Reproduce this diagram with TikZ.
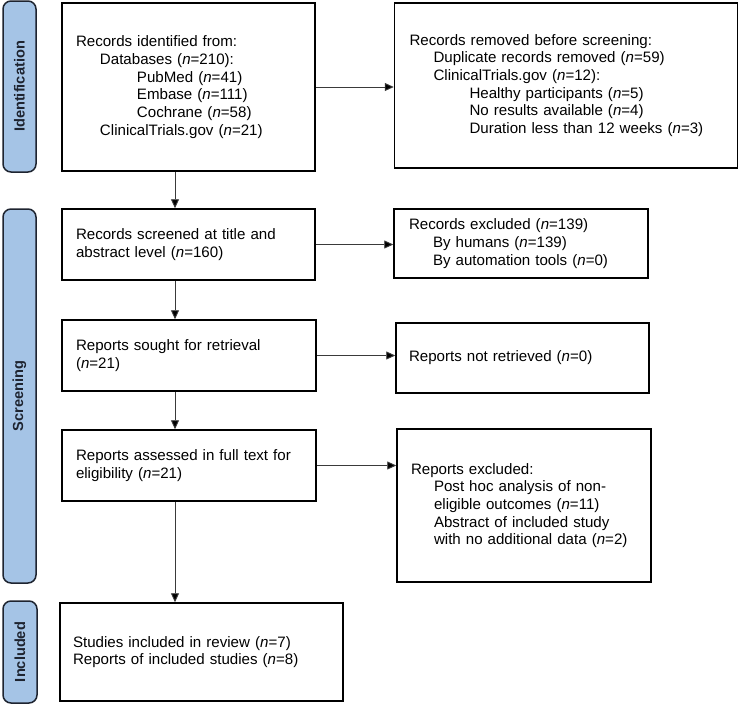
\documentclass[tikz,border=0pt]{standalone}
\usepackage{fontspec}
\setmainfont{Liberation Sans}
\usetikzlibrary{arrows.meta}
\definecolor{tabblue}{HTML}{A5C4E6}
\definecolor{tabedge}{HTML}{1E2430}
\definecolor{arrgray}{HTML}{3A3A3A}
\newcommand{\nn}{\textit{n}}
\begin{document}
\begin{tikzpicture}[x=1pt,y=-1pt,
  flowbox/.style={draw=black, line width=1.5pt, inner ysep=0pt, align=left,
    font=\fontsize{15.1}{17.7}\selectfont, anchor=center},
  tabbox/.style={draw=tabedge, fill=tabblue, line width=1.5pt, rounded corners=8pt},
  tablabel/.style={rotate=90, font=\fontsize{14.6}{16}\selectfont\bfseries, text=tabedge},
  arr/.style={draw=arrgray, line width=0.9pt, -{Triangle[length=9pt,width=8pt,fill=black]}}
]
\useasboundingbox (0,0) rectangle (740,704);
% tabs
\draw[tabbox] (3,1) rectangle (36,172);
\node[tablabel] (tid) at (19.5,86.5) {Identification};
\draw[tabbox] (3,209) rectangle (36,583);
\node[tablabel] (tsc) at (19.5,396) {Screening};
\draw[tabbox] (3,601) rectangle (37,703);
\node[tablabel] (tin) at (20,652) {Included};
% left boxes
\node[flowbox, inner xsep=14pt, text width=225pt, minimum height=168pt] (b1) at (188.5,87)
{Records identified from:\\
\hspace*{24pt}Databases (\nn=210):\\
\hspace*{61pt}PubMed (\nn=41)\\
\hspace*{61pt}Embase (\nn=111)\\
\hspace*{61pt}Cochrane (\nn=58)\\
\hspace*{24pt}ClinicalTrials.gov (\nn=21)};
\node[flowbox, inner xsep=14pt, text width=225pt, minimum height=71pt] (b2) at (188.5,244.5)
{Records screened at title and\\ abstract level (\nn=160)};
\node[flowbox, inner xsep=14pt, text width=226pt, minimum height=71pt] (b3) at (189,355.5)
{Reports sought for retrieval\\ (\nn=21)};
\node[flowbox, inner xsep=14pt, text width=226pt, minimum height=71pt] (b4) at (189,465.5)
{Reports assessed in full text for\\ eligibility (\nn=21)};
\node[flowbox, inner xsep=13pt, text width=257pt, minimum height=98pt] (b5) at (201.5,652)
{Studies included in review (\nn=7)\\ Reports of included studies (\nn=8)};
% right boxes
\node[flowbox, inner xsep=15pt, text width=313pt, minimum height=165pt] (r1) at (566,85.5)
{Records removed before screening:\\
\hspace*{24pt}Duplicate records removed (\nn=59)\\
\hspace*{24pt}ClinicalTrials.gov (\nn=12):\\
\hspace*{60pt}Healthy participants (\nn=5)\\
\hspace*{60pt}No results available (\nn=4)\\
\hspace*{60pt}Duration less than 12 weeks (\nn=3)};
\node[flowbox, inner xsep=15pt, text width=224pt, minimum height=69pt] (r2) at (521,243.5)
{Records excluded (\nn=139)\\
\hspace*{24pt}By humans (\nn=139)\\
\hspace*{24pt}By automation tools (\nn=0)};
\node[flowbox, inner xsep=13pt, text width=227pt, minimum height=70pt] (r3) at (522.5,358)
{Reports not retrieved (\nn=0)};
\node[flowbox, inner xsep=14pt, text width=226pt, minimum height=153pt] (r4) at (524,505.5)
{Reports excluded:\\
\hspace*{23pt}Post hoc analysis of non-\\
\hspace*{23pt}eligible outcomes (\nn=11)\\
\hspace*{23pt}Abstract of included study\\
\hspace*{23pt}with no additional data (\nn=2)};
% connectors
\coordinate (vx) at (175,0);
\draw[arr] (b1.south -| vx) -- (b2.north -| vx);
\draw[arr] (b2.south -| vx) -- (b3.north -| vx);
\draw[arr] (b3.south -| vx) -- (b4.north -| vx);
\draw[arr] (b4.south -| vx) -- (b5.north -| vx);
\draw[arr] (b1.east) -- (b1.east -| r1.west);
\draw[arr] (b2.east) -- (b2.east -| r2.west);
\draw[arr] (b3.east) -- (b3.east -| r3.west);
\draw[arr] (b4.east) -- (b4.east -| r4.west);
\end{tikzpicture}
\end{document}
